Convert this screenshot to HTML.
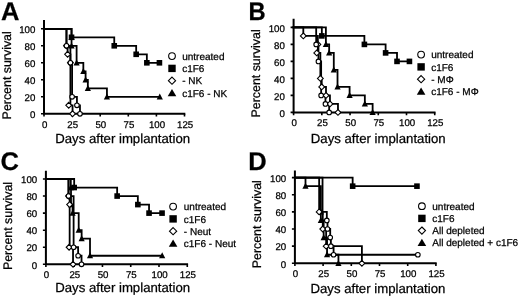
<!DOCTYPE html>
<html><head><meta charset="utf-8"><style>
html,body{margin:0;padding:0;background:#fff;}
svg{display:block;will-change:transform;}
text{font-family:"Liberation Sans", sans-serif;fill:#000;text-rendering:geometricPrecision;stroke:#000;stroke-width:0.25px;}
</style></head><body>
<svg width="520" height="297" viewBox="0 0 520 297">
<rect width="520" height="297" fill="#fff"/>
<g id="pA"><text transform="translate(1.0,20.0) scale(1.0,1)" font-size="25.5" font-weight="bold">A</text><path d="M44.00,28.80H71.54V37.30H114.25V45.80H136.17V54.30H146.85V62.80H159.43" fill="none" stroke="#000" stroke-width="1.8" stroke-linejoin="miter" stroke-linecap="square"/><path d="M44.00,28.80H71.54V37.30H71.54V45.80H76.60V62.80H83.34V71.30H85.59V79.80H87.84V88.30H106.94V96.80H159.77" fill="none" stroke="#000" stroke-width="1.8" stroke-linejoin="miter" stroke-linecap="square"/><path d="M44.00,28.80H66.48V45.80H70.41V62.80H72.10V96.80H76.93V105.30H79.97V113.80" fill="none" stroke="#000" stroke-width="1.8" stroke-linejoin="miter" stroke-linecap="square"/><path d="M44.00,28.80H66.48V45.80H67.60V54.30H70.41V62.80H70.41V105.30H72.55V113.80" fill="none" stroke="#000" stroke-width="1.8" stroke-linejoin="miter" stroke-linecap="square"/><path d="M44.00,20.00V113.80H185.30" fill="none" stroke="#000" stroke-width="2.0"/><path d="M41.00,113.80H44.00M41.00,96.80H44.00M41.00,79.80H44.00M41.00,62.80H44.00M41.00,45.80H44.00M41.00,28.80H44.00M44.00,113.80V116.60M72.10,113.80V116.60M100.20,113.80V116.60M128.30,113.80V116.60M156.40,113.80V116.60M184.50,113.80V116.60" fill="none" stroke="#000" stroke-width="1.6"/><rect x="68.74" y="34.50" width="5.60" height="5.60" fill="#000"/><rect x="111.45" y="43.00" width="5.60" height="5.60" fill="#000"/><rect x="133.37" y="51.50" width="5.60" height="5.60" fill="#000"/><rect x="144.05" y="60.00" width="5.60" height="5.60" fill="#000"/><rect x="156.63" y="60.00" width="5.60" height="5.60" fill="#000"/><path d="M71.54,33.90L74.64,39.90L68.44,39.90Z" fill="#000"/><path d="M71.54,42.40L74.64,48.40L68.44,48.40Z" fill="#000"/><path d="M76.60,59.40L79.70,65.40L73.50,65.40Z" fill="#000"/><path d="M83.34,67.90L86.44,73.90L80.24,73.90Z" fill="#000"/><path d="M85.59,76.40L88.69,82.40L82.49,82.40Z" fill="#000"/><path d="M87.84,84.90L90.94,90.90L84.74,90.90Z" fill="#000"/><path d="M106.94,93.40L110.04,99.40L103.84,99.40Z" fill="#000"/><path d="M159.77,93.40L162.87,99.40L156.67,99.40Z" fill="#000"/><path d="M66.48,42.90L69.38,45.80L66.48,48.70L63.58,45.80Z" fill="#fff" stroke="#000" stroke-width="1.1"/><path d="M67.60,51.40L70.50,54.30L67.60,57.20L64.70,54.30Z" fill="#fff" stroke="#000" stroke-width="1.1"/><path d="M70.41,59.90L73.31,62.80L70.41,65.70L67.51,62.80Z" fill="#fff" stroke="#000" stroke-width="1.1"/><path d="M68.73,102.40L71.63,105.30L68.73,108.20L65.83,105.30Z" fill="#fff" stroke="#000" stroke-width="1.1"/><path d="M72.55,110.90L75.45,113.80L72.55,116.70L69.65,113.80Z" fill="#fff" stroke="#000" stroke-width="1.1"/><circle cx="66.48" cy="45.80" r="2.30" fill="#fff" stroke="#000" stroke-width="1.1"/><circle cx="70.41" cy="62.80" r="2.30" fill="#fff" stroke="#000" stroke-width="1.1"/><circle cx="72.10" cy="96.80" r="2.30" fill="#fff" stroke="#000" stroke-width="1.1"/><circle cx="76.93" cy="105.30" r="2.30" fill="#fff" stroke="#000" stroke-width="1.1"/><circle cx="79.97" cy="113.80" r="2.30" fill="#fff" stroke="#000" stroke-width="1.1"/><text x="35.30" y="118.00" font-size="9.7" text-anchor="end">0</text><text x="35.30" y="101.00" font-size="9.7" text-anchor="end">20</text><text x="35.30" y="84.00" font-size="9.7" text-anchor="end">40</text><text x="35.30" y="67.00" font-size="9.7" text-anchor="end">60</text><text x="35.30" y="50.00" font-size="9.7" text-anchor="end">80</text><text x="35.30" y="33.00" font-size="9.7" text-anchor="end">100</text><text x="44.60" y="127.70" font-size="9.7" text-anchor="middle">0</text><text x="72.70" y="127.70" font-size="9.7" text-anchor="middle">25</text><text x="100.80" y="127.70" font-size="9.7" text-anchor="middle">50</text><text x="128.90" y="127.70" font-size="9.7" text-anchor="middle">75</text><text x="157.00" y="127.70" font-size="9.7" text-anchor="middle">100</text><text x="185.10" y="127.70" font-size="9.7" text-anchor="middle">125</text><text x="55.20" y="143.20" font-size="13.2">Days after implantation</text><text transform="translate(11.3,75.3) rotate(-90)" font-size="12.4" text-anchor="middle">Percent survival</text><circle cx="172.00" cy="56.10" r="3.35" fill="#fff" stroke="#000" stroke-width="1.1"/><text x="182.20" y="59.70" font-size="10">untreated</text><rect x="168.30" y="64.70" width="7.40" height="7.40" fill="#000"/><text x="182.20" y="72.00" font-size="10">c1F6</text><path d="M172.00,77.10L175.60,80.70L172.00,84.30L168.40,80.70Z" fill="#fff" stroke="#000" stroke-width="1.1"/><text x="182.20" y="84.30" font-size="10">- NK</text><path d="M172.00,88.90L176.30,96.30L167.70,96.30Z" fill="#000"/><text x="182.20" y="96.60" font-size="10">c1F6 - NK</text></g><g id="pB"><text transform="translate(248.6,20.0) scale(0.93,1)" font-size="25.5" font-weight="bold">B</text><path d="M293.60,27.40H321.83V35.90H364.39V44.40H385.61V52.90H397.02V61.40H409.44" fill="none" stroke="#000" stroke-width="1.8" stroke-linejoin="miter" stroke-linecap="square"/><path d="M293.60,27.40H325.89V44.40H329.16V52.90H333.79V69.90H337.52V86.90H349.60V95.40H364.84V103.90H372.63V112.40" fill="none" stroke="#000" stroke-width="1.8" stroke-linejoin="miter" stroke-linecap="square"/><path d="M293.60,27.40H316.18V44.40H318.44V61.40H321.15V95.40H325.44V103.90H329.16V112.40" fill="none" stroke="#000" stroke-width="1.8" stroke-linejoin="miter" stroke-linecap="square"/><path d="M293.60,27.40H303.31V35.90H317.87V44.40H317.87V52.90H320.36V78.40H321.71V86.90H326.00V95.40H329.95V103.90H337.97V112.40" fill="none" stroke="#000" stroke-width="1.8" stroke-linejoin="miter" stroke-linecap="square"/><path d="M293.60,18.70V112.40H435.53" fill="none" stroke="#000" stroke-width="2.0"/><path d="M290.60,112.40H293.60M290.60,95.40H293.60M290.60,78.40H293.60M290.60,61.40H293.60M290.60,44.40H293.60M290.60,27.40H293.60M293.60,112.40V115.20M321.83,112.40V115.20M350.05,112.40V115.20M378.28,112.40V115.20M406.50,112.40V115.20M434.73,112.40V115.20" fill="none" stroke="#000" stroke-width="1.6"/><rect x="319.03" y="33.10" width="5.60" height="5.60" fill="#000"/><rect x="361.59" y="41.60" width="5.60" height="5.60" fill="#000"/><rect x="382.81" y="50.10" width="5.60" height="5.60" fill="#000"/><rect x="394.22" y="58.60" width="5.60" height="5.60" fill="#000"/><rect x="406.64" y="58.60" width="5.60" height="5.60" fill="#000"/><path d="M325.89,41.00L328.99,47.00L322.79,47.00Z" fill="#000"/><path d="M329.16,49.50L332.26,55.50L326.06,55.50Z" fill="#000"/><path d="M333.79,66.50L336.89,72.50L330.69,72.50Z" fill="#000"/><path d="M337.52,83.50L340.62,89.50L334.42,89.50Z" fill="#000"/><path d="M349.60,92.00L352.70,98.00L346.50,98.00Z" fill="#000"/><path d="M364.84,100.50L367.94,106.50L361.74,106.50Z" fill="#000"/><path d="M372.63,109.00L375.73,115.00L369.53,115.00Z" fill="#000"/><path d="M303.31,33.00L306.21,35.90L303.31,38.80L300.41,35.90Z" fill="#fff" stroke="#000" stroke-width="1.1"/><path d="M317.87,41.50L320.77,44.40L317.87,47.30L314.97,44.40Z" fill="#fff" stroke="#000" stroke-width="1.1"/><path d="M316.74,50.00L319.64,52.90L316.74,55.80L313.84,52.90Z" fill="#fff" stroke="#000" stroke-width="1.1"/><path d="M320.36,75.50L323.26,78.40L320.36,81.30L317.46,78.40Z" fill="#fff" stroke="#000" stroke-width="1.1"/><path d="M321.71,84.00L324.61,86.90L321.71,89.80L318.81,86.90Z" fill="#fff" stroke="#000" stroke-width="1.1"/><path d="M326.00,92.50L328.90,95.40L326.00,98.30L323.10,95.40Z" fill="#fff" stroke="#000" stroke-width="1.1"/><path d="M329.95,101.00L332.85,103.90L329.95,106.80L327.05,103.90Z" fill="#fff" stroke="#000" stroke-width="1.1"/><path d="M337.97,109.50L340.87,112.40L337.97,115.30L335.07,112.40Z" fill="#fff" stroke="#000" stroke-width="1.1"/><circle cx="316.18" cy="44.40" r="2.30" fill="#fff" stroke="#000" stroke-width="1.1"/><circle cx="318.44" cy="61.40" r="2.30" fill="#fff" stroke="#000" stroke-width="1.1"/><circle cx="321.15" cy="95.40" r="2.30" fill="#fff" stroke="#000" stroke-width="1.1"/><circle cx="325.44" cy="103.90" r="2.30" fill="#fff" stroke="#000" stroke-width="1.1"/><circle cx="329.16" cy="112.40" r="2.30" fill="#fff" stroke="#000" stroke-width="1.1"/><text x="284.90" y="116.60" font-size="9.7" text-anchor="end">0</text><text x="284.90" y="99.60" font-size="9.7" text-anchor="end">20</text><text x="284.90" y="82.60" font-size="9.7" text-anchor="end">40</text><text x="284.90" y="65.60" font-size="9.7" text-anchor="end">60</text><text x="284.90" y="48.60" font-size="9.7" text-anchor="end">80</text><text x="284.90" y="31.60" font-size="9.7" text-anchor="end">100</text><text x="294.20" y="126.30" font-size="9.7" text-anchor="middle">0</text><text x="322.43" y="126.30" font-size="9.7" text-anchor="middle">25</text><text x="350.65" y="126.30" font-size="9.7" text-anchor="middle">50</text><text x="378.88" y="126.30" font-size="9.7" text-anchor="middle">75</text><text x="407.10" y="126.30" font-size="9.7" text-anchor="middle">100</text><text x="435.33" y="126.30" font-size="9.7" text-anchor="middle">125</text><text x="310.80" y="143.20" font-size="13.2">Days after implantation</text><text transform="translate(259.9,73.4) rotate(-90)" font-size="12.4" text-anchor="middle">Percent survival</text><circle cx="421.10" cy="54.60" r="3.35" fill="#fff" stroke="#000" stroke-width="1.1"/><text x="431.20" y="58.20" font-size="10">untreated</text><rect x="417.40" y="63.20" width="7.40" height="7.40" fill="#000"/><text x="431.20" y="70.50" font-size="10">c1F6</text><path d="M421.10,75.60L424.70,79.20L421.10,82.80L417.50,79.20Z" fill="#fff" stroke="#000" stroke-width="1.1"/><text x="431.20" y="82.80" font-size="10">- MΦ</text><path d="M421.10,87.40L425.40,94.80L416.80,94.80Z" fill="#000"/><text x="431.20" y="95.10" font-size="10">c1F6 - MΦ</text></g><g id="pC"><text transform="translate(0.5,169.7) scale(1.0,1)" font-size="25.5" font-weight="bold">C</text><path d="M45.90,179.00H74.17V187.53H117.15V196.06H137.85V204.59H149.05V213.12H162.05" fill="none" stroke="#000" stroke-width="1.8" stroke-linejoin="miter" stroke-linecap="square"/><path d="M45.90,179.00H70.78V187.53H71.01V204.59H72.59V213.12H78.70V230.18H81.64V238.71H90.01V255.77H162.17" fill="none" stroke="#000" stroke-width="1.8" stroke-linejoin="miter" stroke-linecap="square"/><path d="M45.90,179.00H68.52V196.06H73.61V247.24H78.13V255.77H81.53V264.30" fill="none" stroke="#000" stroke-width="1.8" stroke-linejoin="miter" stroke-linecap="square"/><path d="M45.90,179.00H68.52V196.06H69.65V204.59H69.65V247.24H73.04V264.30" fill="none" stroke="#000" stroke-width="1.8" stroke-linejoin="miter" stroke-linecap="square"/><path d="M45.90,170.70V264.30H188.08" fill="none" stroke="#000" stroke-width="2.0"/><path d="M42.90,264.30H45.90M42.90,247.24H45.90M42.90,230.18H45.90M42.90,213.12H45.90M42.90,196.06H45.90M42.90,179.00H45.90M45.90,264.30V267.10M74.17,264.30V267.10M102.45,264.30V267.10M130.72,264.30V267.10M159.00,264.30V267.10M187.28,264.30V267.10" fill="none" stroke="#000" stroke-width="1.6"/><rect x="71.38" y="184.73" width="5.60" height="5.60" fill="#000"/><rect x="114.35" y="193.26" width="5.60" height="5.60" fill="#000"/><rect x="135.05" y="201.79" width="5.60" height="5.60" fill="#000"/><rect x="146.25" y="210.32" width="5.60" height="5.60" fill="#000"/><rect x="159.25" y="210.32" width="5.60" height="5.60" fill="#000"/><path d="M70.78,184.13L73.88,190.13L67.68,190.13Z" fill="#000"/><path d="M71.01,201.19L74.11,207.19L67.91,207.19Z" fill="#000"/><path d="M72.59,209.72L75.69,215.72L69.49,215.72Z" fill="#000"/><path d="M78.70,226.78L81.80,232.78L75.60,232.78Z" fill="#000"/><path d="M81.64,235.31L84.74,241.31L78.54,241.31Z" fill="#000"/><path d="M90.01,252.37L93.11,258.37L86.91,258.37Z" fill="#000"/><path d="M162.17,252.37L165.27,258.37L159.07,258.37Z" fill="#000"/><path d="M68.52,193.16L71.42,196.06L68.52,198.96L65.62,196.06Z" fill="#fff" stroke="#000" stroke-width="1.1"/><path d="M69.65,201.69L72.55,204.59L69.65,207.49L66.75,204.59Z" fill="#fff" stroke="#000" stroke-width="1.1"/><path d="M69.09,244.34L71.99,247.24L69.09,250.14L66.19,247.24Z" fill="#fff" stroke="#000" stroke-width="1.1"/><path d="M73.04,261.40L75.94,264.30L73.04,267.20L70.14,264.30Z" fill="#fff" stroke="#000" stroke-width="1.1"/><circle cx="68.52" cy="196.06" r="2.30" fill="#fff" stroke="#000" stroke-width="1.1"/><circle cx="73.61" cy="247.24" r="2.30" fill="#fff" stroke="#000" stroke-width="1.1"/><circle cx="78.13" cy="255.77" r="2.30" fill="#fff" stroke="#000" stroke-width="1.1"/><circle cx="81.53" cy="264.30" r="2.30" fill="#fff" stroke="#000" stroke-width="1.1"/><text x="37.20" y="268.50" font-size="9.7" text-anchor="end">0</text><text x="37.20" y="251.44" font-size="9.7" text-anchor="end">20</text><text x="37.20" y="234.38" font-size="9.7" text-anchor="end">40</text><text x="37.20" y="217.32" font-size="9.7" text-anchor="end">60</text><text x="37.20" y="200.26" font-size="9.7" text-anchor="end">80</text><text x="37.20" y="183.20" font-size="9.7" text-anchor="end">100</text><text x="46.50" y="278.20" font-size="9.7" text-anchor="middle">0</text><text x="74.77" y="278.20" font-size="9.7" text-anchor="middle">25</text><text x="103.05" y="278.20" font-size="9.7" text-anchor="middle">50</text><text x="131.32" y="278.20" font-size="9.7" text-anchor="middle">75</text><text x="159.60" y="278.20" font-size="9.7" text-anchor="middle">100</text><text x="187.88" y="278.20" font-size="9.7" text-anchor="middle">125</text><text x="55.20" y="292.20" font-size="13.2">Days after implantation</text><text transform="translate(12.0,226.0) rotate(-90)" font-size="12.4" text-anchor="middle">Percent survival</text><circle cx="173.10" cy="206.60" r="3.35" fill="#fff" stroke="#000" stroke-width="1.1"/><text x="183.80" y="210.20" font-size="10">untreated</text><rect x="169.40" y="215.20" width="7.40" height="7.40" fill="#000"/><text x="183.80" y="222.50" font-size="10">c1F6</text><path d="M173.10,227.60L176.70,231.20L173.10,234.80L169.50,231.20Z" fill="#fff" stroke="#000" stroke-width="1.1"/><text x="183.80" y="234.80" font-size="10">- Neut</text><path d="M173.10,239.40L177.40,246.80L168.80,246.80Z" fill="#000"/><text x="183.80" y="247.10" font-size="10">c1F6 - Neut</text></g><g id="pD"><text transform="translate(248.2,169.6) scale(1.0,1)" font-size="25.5" font-weight="bold">D</text><path d="M294.90,177.60H352.65V186.17H416.95" fill="none" stroke="#000" stroke-width="1.8" stroke-linejoin="miter" stroke-linecap="square"/><path d="M294.90,177.60H305.50V186.17H320.84V211.88H320.84V220.45H323.66V237.59H327.05V254.73H338.44V263.30" fill="none" stroke="#000" stroke-width="1.8" stroke-linejoin="miter" stroke-linecap="square"/><path d="M294.90,177.60H322.54V211.88H326.82V220.45H327.50V229.02H330.21V237.59H330.88V246.16H333.59V254.73H417.85" fill="none" stroke="#000" stroke-width="1.8" stroke-linejoin="miter" stroke-linecap="square"/><path d="M294.90,177.60H319.15V211.88H322.76V229.02H326.15V246.16H361.90V263.30" fill="none" stroke="#000" stroke-width="1.8" stroke-linejoin="miter" stroke-linecap="square"/><path d="M294.90,170.40V263.30H436.70" fill="none" stroke="#000" stroke-width="2.0"/><path d="M291.90,263.30H294.90M291.90,246.16H294.90M291.90,229.02H294.90M291.90,211.88H294.90M291.90,194.74H294.90M291.90,177.60H294.90M294.90,263.30V266.10M323.10,263.30V266.10M351.30,263.30V266.10M379.50,263.30V266.10M407.70,263.30V266.10M435.90,263.30V266.10" fill="none" stroke="#000" stroke-width="1.6"/><rect x="349.85" y="183.37" width="5.60" height="5.60" fill="#000"/><rect x="414.15" y="183.37" width="5.60" height="5.60" fill="#000"/><path d="M305.50,182.77L308.60,188.77L302.40,188.77Z" fill="#000"/><path d="M320.84,208.48L323.94,214.48L317.74,214.48Z" fill="#000"/><path d="M320.84,217.05L323.94,223.05L317.74,223.05Z" fill="#000"/><path d="M323.66,234.19L326.76,240.19L320.56,240.19Z" fill="#000"/><path d="M327.05,251.33L330.15,257.33L323.95,257.33Z" fill="#000"/><path d="M338.44,259.90L341.54,265.90L335.34,265.90Z" fill="#000"/><path d="M319.15,208.98L322.05,211.88L319.15,214.78L316.25,211.88Z" fill="#fff" stroke="#000" stroke-width="1.1"/><path d="M322.76,226.12L325.66,229.02L322.76,231.92L319.86,229.02Z" fill="#fff" stroke="#000" stroke-width="1.1"/><path d="M326.15,243.26L329.05,246.16L326.15,249.06L323.25,246.16Z" fill="#fff" stroke="#000" stroke-width="1.1"/><path d="M361.90,260.40L364.80,263.30L361.90,266.20L359.00,263.30Z" fill="#fff" stroke="#000" stroke-width="1.1"/><circle cx="326.82" cy="220.45" r="2.30" fill="#fff" stroke="#000" stroke-width="1.1"/><circle cx="327.50" cy="229.02" r="2.30" fill="#fff" stroke="#000" stroke-width="1.1"/><circle cx="330.21" cy="237.59" r="2.30" fill="#fff" stroke="#000" stroke-width="1.1"/><circle cx="330.88" cy="246.16" r="2.30" fill="#fff" stroke="#000" stroke-width="1.1"/><circle cx="333.59" cy="254.73" r="2.30" fill="#fff" stroke="#000" stroke-width="1.1"/><circle cx="417.85" cy="254.73" r="2.30" fill="#fff" stroke="#000" stroke-width="1.1"/><text x="286.20" y="267.50" font-size="9.7" text-anchor="end">0</text><text x="286.20" y="250.36" font-size="9.7" text-anchor="end">20</text><text x="286.20" y="233.22" font-size="9.7" text-anchor="end">40</text><text x="286.20" y="216.08" font-size="9.7" text-anchor="end">60</text><text x="286.20" y="198.94" font-size="9.7" text-anchor="end">80</text><text x="286.20" y="181.80" font-size="9.7" text-anchor="end">100</text><text x="295.50" y="277.20" font-size="9.7" text-anchor="middle">0</text><text x="323.70" y="277.20" font-size="9.7" text-anchor="middle">25</text><text x="351.90" y="277.20" font-size="9.7" text-anchor="middle">50</text><text x="380.10" y="277.20" font-size="9.7" text-anchor="middle">75</text><text x="408.30" y="277.20" font-size="9.7" text-anchor="middle">100</text><text x="436.50" y="277.20" font-size="9.7" text-anchor="middle">125</text><text x="310.50" y="292.50" font-size="13.2">Days after implantation</text><text transform="translate(260.6,224.2) rotate(-90)" font-size="12.4" text-anchor="middle">Percent survival</text><circle cx="421.90" cy="206.20" r="3.35" fill="#fff" stroke="#000" stroke-width="1.1"/><text x="432.30" y="209.80" font-size="10">untreated</text><rect x="418.20" y="214.70" width="7.40" height="7.40" fill="#000"/><text x="432.30" y="222.00" font-size="10">c1F6</text><path d="M421.90,227.00L425.50,230.60L421.90,234.20L418.30,230.60Z" fill="#fff" stroke="#000" stroke-width="1.1"/><text x="432.30" y="234.20" font-size="10">All depleted</text><path d="M421.90,238.70L426.20,246.10L417.60,246.10Z" fill="#000"/><text x="432.30" y="246.40" font-size="10">All depleted + c1F6</text></g>
</svg></body></html>
